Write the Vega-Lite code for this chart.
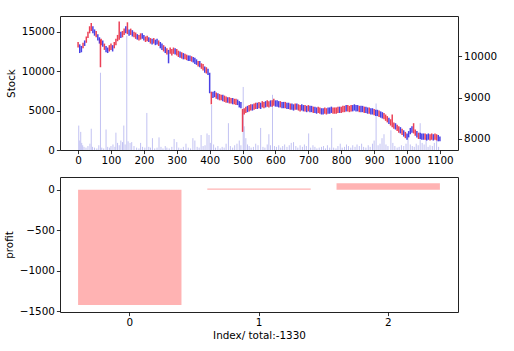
{
  "$schema": "https://vega.github.io/schema/vega-lite/v6.json",
  "padding": {"left": 3, "top": 15, "right": 5, "bottom": 5},
  "spacing": 9,
  "config": {
    "font": "DejaVu Sans",
    "view": {"stroke": "#222", "strokeWidth": 1},
    "axis": {"labelFont": "DejaVu Sans", "labelFontSize": 10.4, "titleFont": "DejaVu Sans", "titleFontSize": 10.4, "titleFontWeight": "normal", "labelColor": "#000", "titleColor": "#000", "tickColor": "#000", "tickSize": 3.6, "tickWidth": 0.8, "labelPadding": 2, "domain": false, "grid": false, "labelOverlap": false}
  },
  "datasets": {
    "price": [
      {"i":0,"lo":13000,"hi":13700,"c":"r"},{"i":5,"lo":12300,"hi":13400,"c":"b"},{"i":10,"lo":12400,"hi":13200,"c":"b"},{"i":15,"lo":12900,"hi":13600,"c":"r"},{"i":20,"lo":13200,"hi":13900,"c":"b"},{"i":25,"lo":13600,"hi":14400,"c":"r"},{"i":30,"lo":14200,"hi":15000,"c":"r"},{"i":35,"lo":14800,"hi":15700,"c":"r"},{"i":40,"lo":15100,"hi":16100,"c":"r"},{"i":45,"lo":14800,"hi":15700,"c":"b"},{"i":50,"lo":14500,"hi":15300,"c":"b"},{"i":55,"lo":14300,"hi":15100,"c":"r"},{"i":60,"lo":13900,"hi":14700,"c":"b"},{"i":65,"lo":13500,"hi":14300,"c":"b"},{"i":68,"lo":10500,"hi":14000,"c":"r"},{"i":70,"lo":13300,"hi":14100,"c":"r"},{"i":75,"lo":13100,"hi":13900,"c":"b"},{"i":80,"lo":12700,"hi":13500,"c":"r"},{"i":85,"lo":12400,"hi":13200,"c":"b"},{"i":90,"lo":12300,"hi":13000,"c":"b"},{"i":95,"lo":12500,"hi":13300,"c":"r"},{"i":100,"lo":12700,"hi":13500,"c":"r"},{"i":105,"lo":12500,"hi":13300,"c":"b"},{"i":110,"lo":12900,"hi":13700,"c":"r"},{"i":115,"lo":13300,"hi":14100,"c":"r"},{"i":120,"lo":13800,"hi":14600,"c":"r"},{"i":125,"lo":14000,"hi":16300,"c":"r"},{"i":130,"lo":14200,"hi":15000,"c":"b"},{"i":135,"lo":14300,"hi":15100,"c":"r"},{"i":140,"lo":14600,"hi":15400,"c":"r"},{"i":145,"lo":14800,"hi":15700,"c":"b"},{"i":150,"lo":14700,"hi":16200,"c":"r"},{"i":155,"lo":14500,"hi":15300,"c":"b"},{"i":160,"lo":14600,"hi":15400,"c":"r"},{"i":165,"lo":14400,"hi":15200,"c":"b"},{"i":170,"lo":14300,"hi":15000,"c":"r"},{"i":175,"lo":14100,"hi":14900,"c":"r"},{"i":180,"lo":14000,"hi":14700,"c":"b"},{"i":185,"lo":13900,"hi":14600,"c":"r"},{"i":190,"lo":14000,"hi":14800,"c":"r"},{"i":195,"lo":14100,"hi":14800,"c":"b"},{"i":200,"lo":13900,"hi":14600,"c":"b"},{"i":205,"lo":13700,"hi":14400,"c":"r"},{"i":210,"lo":13800,"hi":14500,"c":"r"},{"i":215,"lo":13700,"hi":14300,"c":"b"},{"i":220,"lo":13500,"hi":14200,"c":"r"},{"i":225,"lo":13400,"hi":14100,"c":"b"},{"i":230,"lo":13500,"hi":14200,"c":"r"},{"i":235,"lo":13300,"hi":14000,"c":"b"},{"i":240,"lo":13400,"hi":14100,"c":"b"},{"i":245,"lo":13200,"hi":13900,"c":"r"},{"i":250,"lo":12900,"hi":13700,"c":"b"},{"i":255,"lo":12700,"hi":13500,"c":"b"},{"i":260,"lo":12500,"hi":13300,"c":"r"},{"i":265,"lo":12300,"hi":13100,"c":"b"},{"i":270,"lo":12100,"hi":12900,"c":"r"},{"i":275,"lo":11000,"hi":12700,"c":"b"},{"i":280,"lo":12200,"hi":13000,"c":"r"},{"i":285,"lo":12000,"hi":12800,"c":"r"},{"i":290,"lo":12200,"hi":13000,"c":"r"},{"i":295,"lo":12100,"hi":12900,"c":"b"},{"i":300,"lo":12000,"hi":12800,"c":"r"},{"i":305,"lo":11800,"hi":12600,"c":"r"},{"i":310,"lo":11700,"hi":12500,"c":"b"},{"i":315,"lo":11600,"hi":12400,"c":"r"},{"i":320,"lo":11500,"hi":12300,"c":"b"},{"i":325,"lo":11500,"hi":12200,"c":"r"},{"i":330,"lo":11400,"hi":12100,"c":"r"},{"i":335,"lo":11300,"hi":12000,"c":"b"},{"i":340,"lo":11300,"hi":12000,"c":"b"},{"i":345,"lo":11200,"hi":11900,"c":"r"},{"i":350,"lo":11100,"hi":11800,"c":"b"},{"i":355,"lo":10900,"hi":11700,"c":"b"},{"i":360,"lo":10800,"hi":11500,"c":"b"},{"i":365,"lo":10600,"hi":11300,"c":"r"},{"i":370,"lo":10500,"hi":11300,"c":"b"},{"i":375,"lo":10300,"hi":11000,"c":"r"},{"i":380,"lo":10100,"hi":10900,"c":"r"},{"i":385,"lo":9800,"hi":10600,"c":"b"},{"i":390,"lo":9700,"hi":10500,"c":"r"},{"i":395,"lo":9500,"hi":10300,"c":"b"},{"i":400,"lo":7200,"hi":9800,"c":"b"},{"i":405,"lo":5800,"hi":7400,"c":"r"},{"i":410,"lo":6600,"hi":7400,"c":"b"},{"i":415,"lo":6700,"hi":7500,"c":"b"},{"i":420,"lo":6500,"hi":7300,"c":"r"},{"i":425,"lo":6400,"hi":7200,"c":"b"},{"i":430,"lo":6300,"hi":7100,"c":"r"},{"i":435,"lo":6300,"hi":7000,"c":"r"},{"i":440,"lo":6200,"hi":7000,"c":"b"},{"i":445,"lo":6100,"hi":6900,"c":"r"},{"i":450,"lo":6000,"hi":6800,"c":"r"},{"i":455,"lo":6000,"hi":6700,"c":"b"},{"i":460,"lo":5900,"hi":6700,"c":"r"},{"i":465,"lo":5900,"hi":6600,"c":"r"},{"i":470,"lo":5800,"hi":6600,"c":"b"},{"i":475,"lo":5800,"hi":6500,"c":"r"},{"i":480,"lo":5700,"hi":6500,"c":"r"},{"i":485,"lo":5700,"hi":6400,"c":"b"},{"i":490,"lo":5400,"hi":6200,"c":"b"},{"i":495,"lo":5300,"hi":6100,"c":"b"},{"i":500,"lo":2300,"hi":5200,"c":"r"},{"i":505,"lo":4500,"hi":5300,"c":"r"},{"i":510,"lo":4700,"hi":5500,"c":"r"},{"i":515,"lo":4800,"hi":5600,"c":"b"},{"i":520,"lo":4900,"hi":5700,"c":"r"},{"i":525,"lo":5000,"hi":5800,"c":"r"},{"i":530,"lo":5000,"hi":5800,"c":"b"},{"i":535,"lo":5100,"hi":5900,"c":"r"},{"i":540,"lo":5200,"hi":6000,"c":"r"},{"i":545,"lo":5200,"hi":6000,"c":"b"},{"i":550,"lo":5300,"hi":6100,"c":"r"},{"i":555,"lo":5200,"hi":6000,"c":"b"},{"i":560,"lo":5400,"hi":6200,"c":"r"},{"i":565,"lo":5300,"hi":6100,"c":"r"},{"i":570,"lo":5400,"hi":6200,"c":"b"},{"i":575,"lo":5500,"hi":6300,"c":"r"},{"i":580,"lo":5400,"hi":6200,"c":"r"},{"i":585,"lo":5500,"hi":6300,"c":"b"},{"i":590,"lo":5500,"hi":6300,"c":"r"},{"i":595,"lo":5600,"hi":6500,"c":"r"},{"i":600,"lo":5500,"hi":6300,"c":"b"},{"i":605,"lo":5500,"hi":6300,"c":"b"},{"i":610,"lo":5400,"hi":6200,"c":"b"},{"i":615,"lo":5400,"hi":6200,"c":"r"},{"i":620,"lo":5300,"hi":6100,"c":"b"},{"i":625,"lo":5300,"hi":6100,"c":"b"},{"i":630,"lo":5300,"hi":6100,"c":"r"},{"i":635,"lo":5200,"hi":6000,"c":"b"},{"i":640,"lo":5200,"hi":6000,"c":"b"},{"i":645,"lo":5100,"hi":5900,"c":"r"},{"i":650,"lo":5100,"hi":5900,"c":"b"},{"i":655,"lo":5000,"hi":5800,"c":"b"},{"i":660,"lo":5100,"hi":5900,"c":"r"},{"i":665,"lo":5100,"hi":5900,"c":"b"},{"i":670,"lo":5000,"hi":5800,"c":"r"},{"i":675,"lo":4900,"hi":5700,"c":"r"},{"i":680,"lo":5000,"hi":5800,"c":"b"},{"i":685,"lo":4900,"hi":5700,"c":"b"},{"i":690,"lo":4900,"hi":5700,"c":"r"},{"i":695,"lo":4800,"hi":5600,"c":"b"},{"i":700,"lo":4900,"hi":5700,"c":"r"},{"i":705,"lo":4800,"hi":5600,"c":"b"},{"i":710,"lo":4800,"hi":5600,"c":"b"},{"i":715,"lo":4700,"hi":5500,"c":"r"},{"i":720,"lo":4700,"hi":5500,"c":"b"},{"i":725,"lo":4600,"hi":5400,"c":"b"},{"i":730,"lo":4700,"hi":5500,"c":"r"},{"i":735,"lo":4600,"hi":5400,"c":"r"},{"i":740,"lo":4500,"hi":5300,"c":"b"},{"i":745,"lo":4500,"hi":5300,"c":"b"},{"i":750,"lo":4600,"hi":5400,"c":"r"},{"i":755,"lo":4500,"hi":5300,"c":"r"},{"i":760,"lo":4600,"hi":5400,"c":"b"},{"i":765,"lo":4600,"hi":5400,"c":"b"},{"i":770,"lo":4700,"hi":5500,"c":"b"},{"i":775,"lo":4600,"hi":5400,"c":"r"},{"i":780,"lo":4600,"hi":5400,"c":"r"},{"i":785,"lo":4600,"hi":5400,"c":"r"},{"i":790,"lo":4700,"hi":5500,"c":"r"},{"i":795,"lo":4700,"hi":5500,"c":"b"},{"i":800,"lo":4700,"hi":5500,"c":"r"},{"i":805,"lo":4800,"hi":5600,"c":"r"},{"i":810,"lo":4800,"hi":5600,"c":"r"},{"i":815,"lo":4900,"hi":5700,"c":"b"},{"i":820,"lo":4900,"hi":5700,"c":"r"},{"i":825,"lo":4800,"hi":5600,"c":"r"},{"i":830,"lo":4900,"hi":5700,"c":"r"},{"i":835,"lo":4900,"hi":5700,"c":"b"},{"i":840,"lo":5000,"hi":5800,"c":"b"},{"i":845,"lo":4900,"hi":5700,"c":"b"},{"i":850,"lo":4900,"hi":5700,"c":"b"},{"i":855,"lo":4800,"hi":5600,"c":"r"},{"i":860,"lo":4800,"hi":5600,"c":"b"},{"i":865,"lo":4800,"hi":5600,"c":"b"},{"i":870,"lo":4700,"hi":5500,"c":"r"},{"i":875,"lo":4700,"hi":5500,"c":"b"},{"i":880,"lo":4600,"hi":5400,"c":"b"},{"i":885,"lo":4600,"hi":5400,"c":"r"},{"i":890,"lo":4500,"hi":5300,"c":"b"},{"i":895,"lo":4500,"hi":5300,"c":"b"},{"i":900,"lo":4400,"hi":5200,"c":"r"},{"i":905,"lo":4300,"hi":5100,"c":"b"},{"i":910,"lo":4300,"hi":5100,"c":"b"},{"i":915,"lo":4200,"hi":5000,"c":"r"},{"i":920,"lo":4100,"hi":4900,"c":"b"},{"i":925,"lo":4000,"hi":4800,"c":"b"},{"i":930,"lo":3900,"hi":4700,"c":"r"},{"i":935,"lo":3700,"hi":4500,"c":"r"},{"i":940,"lo":3500,"hi":4300,"c":"r"},{"i":945,"lo":3300,"hi":4100,"c":"b"},{"i":950,"lo":3100,"hi":3900,"c":"r"},{"i":955,"lo":2900,"hi":4500,"c":"r"},{"i":960,"lo":2700,"hi":3500,"c":"r"},{"i":965,"lo":2600,"hi":3400,"c":"b"},{"i":970,"lo":2400,"hi":3200,"c":"r"},{"i":975,"lo":2200,"hi":3000,"c":"r"},{"i":980,"lo":2100,"hi":2900,"c":"b"},{"i":985,"lo":1900,"hi":2700,"c":"r"},{"i":990,"lo":1700,"hi":2500,"c":"b"},{"i":995,"lo":1500,"hi":2300,"c":"r"},{"i":1000,"lo":1300,"hi":2100,"c":"b"},{"i":1005,"lo":1600,"hi":2400,"c":"b"},{"i":1010,"lo":2000,"hi":2800,"c":"b"},{"i":1015,"lo":2200,"hi":3000,"c":"b"},{"i":1020,"lo":2100,"hi":3400,"c":"r"},{"i":1025,"lo":1800,"hi":2600,"c":"r"},{"i":1030,"lo":1600,"hi":2400,"c":"b"},{"i":1035,"lo":1400,"hi":2200,"c":"r"},{"i":1040,"lo":1400,"hi":2200,"c":"b"},{"i":1045,"lo":1300,"hi":2100,"c":"b"},{"i":1050,"lo":1300,"hi":2100,"c":"b"},{"i":1055,"lo":1300,"hi":2100,"c":"r"},{"i":1060,"lo":1200,"hi":2000,"c":"b"},{"i":1065,"lo":1300,"hi":2100,"c":"b"},{"i":1070,"lo":1200,"hi":2000,"c":"r"},{"i":1075,"lo":1300,"hi":2100,"c":"r"},{"i":1080,"lo":1200,"hi":2000,"c":"b"},{"i":1085,"lo":1300,"hi":2100,"c":"r"},{"i":1090,"lo":1200,"hi":2000,"c":"r"},{"i":1095,"lo":1100,"hi":1900,"c":"b"},{"i":1100,"lo":1100,"hi":1700,"c":"b"}
    ],
    "vol": [
      {"i":2,"v":3100},{"i":5,"v":1200},{"i":8,"v":2300},{"i":11,"v":900},{"i":14,"v":600},{"i":18,"v":400},{"i":24,"v":300},{"i":30,"v":500},{"i":36,"v":800},{"i":40,"v":2700},{"i":44,"v":400},{"i":50,"v":300},{"i":57,"v":200},{"i":63,"v":600},{"i":68,"v":9800},{"i":72,"v":300},{"i":78,"v":200},{"i":85,"v":2600},{"i":90,"v":400},{"i":96,"v":300},{"i":100,"v":500},{"i":106,"v":700},{"i":112,"v":400},{"i":115,"v":2200},{"i":120,"v":900},{"i":125,"v":600},{"i":130,"v":1200},{"i":135,"v":1000},{"i":139,"v":3100},{"i":143,"v":700},{"i":148,"v":14500},{"i":152,"v":1100},{"i":158,"v":900},{"i":163,"v":1000},{"i":170,"v":500},{"i":178,"v":300},{"i":185,"v":200},{"i":190,"v":900},{"i":196,"v":400},{"i":203,"v":300},{"i":209,"v":4700},{"i":215,"v":400},{"i":220,"v":300},{"i":226,"v":1500},{"i":233,"v":200},{"i":240,"v":300},{"i":246,"v":1600},{"i":252,"v":400},{"i":258,"v":200},{"i":265,"v":500},{"i":270,"v":300},{"i":277,"v":200},{"i":285,"v":400},{"i":292,"v":1400},{"i":300,"v":1000},{"i":306,"v":300},{"i":313,"v":200},{"i":320,"v":400},{"i":328,"v":800},{"i":335,"v":300},{"i":342,"v":200},{"i":349,"v":1500},{"i":355,"v":1200},{"i":362,"v":400},{"i":368,"v":300},{"i":374,"v":1900},{"i":380,"v":500},{"i":386,"v":600},{"i":392,"v":2100},{"i":398,"v":1900},{"i":402,"v":900},{"i":406,"v":5700},{"i":412,"v":700},{"i":418,"v":300},{"i":425,"v":500},{"i":432,"v":200},{"i":438,"v":400},{"i":444,"v":300},{"i":450,"v":800},{"i":457,"v":3400},{"i":463,"v":500},{"i":470,"v":300},{"i":476,"v":600},{"i":483,"v":800},{"i":490,"v":1200},{"i":495,"v":600},{"i":502,"v":8000},{"i":505,"v":3000},{"i":510,"v":1500},{"i":515,"v":700},{"i":520,"v":500},{"i":526,"v":300},{"i":533,"v":400},{"i":540,"v":800},{"i":547,"v":600},{"i":555,"v":2800},{"i":562,"v":400},{"i":568,"v":300},{"i":575,"v":700},{"i":580,"v":2000},{"i":585,"v":600},{"i":591,"v":7000},{"i":597,"v":500},{"i":603,"v":400},{"i":610,"v":600},{"i":616,"v":300},{"i":622,"v":500},{"i":628,"v":700},{"i":635,"v":400},{"i":642,"v":600},{"i":648,"v":900},{"i":655,"v":1000},{"i":662,"v":500},{"i":668,"v":300},{"i":675,"v":600},{"i":682,"v":400},{"i":688,"v":700},{"i":694,"v":500},{"i":701,"v":2100},{"i":707,"v":300},{"i":714,"v":600},{"i":720,"v":400},{"i":726,"v":200},{"i":733,"v":300},{"i":740,"v":400},{"i":746,"v":500},{"i":752,"v":200},{"i":758,"v":600},{"i":765,"v":300},{"i":771,"v":2800},{"i":777,"v":300},{"i":784,"v":200},{"i":790,"v":500},{"i":797,"v":800},{"i":803,"v":300},{"i":810,"v":400},{"i":816,"v":700},{"i":822,"v":500},{"i":829,"v":300},{"i":835,"v":600},{"i":842,"v":400},{"i":848,"v":700},{"i":855,"v":500},{"i":862,"v":800},{"i":868,"v":400},{"i":875,"v":300},{"i":882,"v":600},{"i":888,"v":400},{"i":895,"v":800},{"i":900,"v":1200},{"i":906,"v":5900},{"i":912,"v":600},{"i":918,"v":800},{"i":924,"v":1500},{"i":930,"v":2000},{"i":936,"v":700},{"i":942,"v":500},{"i":951,"v":2500},{"i":957,"v":900},{"i":963,"v":500},{"i":970,"v":300},{"i":976,"v":400},{"i":983,"v":600},{"i":990,"v":500},{"i":997,"v":800},{"i":1003,"v":2000},{"i":1010,"v":700},{"i":1016,"v":500},{"i":1022,"v":400},{"i":1028,"v":800},{"i":1034,"v":600},{"i":1040,"v":3400},{"i":1046,"v":900},{"i":1052,"v":700},{"i":1058,"v":1500},{"i":1064,"v":400},{"i":1070,"v":600},{"i":1077,"v":500},{"i":1083,"v":900},{"i":1090,"v":1200},{"i":1096,"v":400}
    ],
    "right": [{"r":8000},{"r":10000}],
    "profit": [{"k":"0","p":-1425},{"k":"1","p":15},{"k":"2","p":80}]
  },
  "vconcat": [
    {
      "width": 398,
      "height": 134,
      "layer": [
        {
          "layer": [
            {
              "data": {"name": "vol"},
              "mark": {"type": "rule", "color": "#c2c2f2", "strokeWidth": 1},
              "encoding": {
                "x": {"field": "i", "type": "quantitative", "scale": {"domain": [-55, 1155], "nice": false, "zero": false}, "axis": {"values": [0,100,200,300,400,500,600,700,800,900,1000,1100], "title": null, "format": "d", "labelOverlap": false, "labelFlush": false}},
                "y": {"field": "v", "type": "quantitative", "scale": {"domain": [0, 17000], "nice": false}, "axis": {"values": [0,5000,10000,15000], "title": "Stock", "format": "d", "titlePadding": 5}},
                "y2": {"datum": 0}
              }
            },
            {
              "data": {"name": "price"},
              "mark": {"type": "rule", "strokeWidth": 1.5, "opacity": 0.85},
              "encoding": {
                "x": {"field": "i", "type": "quantitative", "axis": {"values": [0,100,200,300,400,500,600,700,800,900,1000,1100], "title": null, "format": "d", "labelOverlap": false, "labelFlush": false}},
                "y": {"field": "lo", "type": "quantitative", "axis": {"values": [0,5000,10000,15000], "title": "Stock", "format": "d", "titlePadding": 5}},
                "y2": {"field": "hi"},
                "color": {"field": "c", "type": "nominal", "scale": {"domain": ["r","b"], "range": ["#e8203a", "#2a20e0"]}, "legend": null}
              }
            }
          ]
        },
        {
          "data": {"name": "right"},
          "mark": {"type": "point", "opacity": 0},
          "encoding": {
            "y": {"field": "r", "type": "quantitative", "scale": {"domain": [7730, 10975], "nice": false, "zero": false}, "axis": {"values": [8000, 9000, 10000], "title": null, "format": "d", "orient": "right"}}
          }
        }
      ],
      "resolve": {"scale": {"y": "independent"}}
    },
    {
      "width": 398,
      "height": 135,
      "data": {"name": "profit"},
      "mark": {"type": "bar", "color": "#ffb3b3"},
      "encoding": {
        "x": {"field": "k", "type": "ordinal", "scale": {"paddingInner": 0.2, "paddingOuter": 0.14}, "axis": {"labelAngle": 0, "title": "Index/ total:-1330", "titlePadding": 2}},
        "y": {"field": "p", "type": "quantitative", "scale": {"domain": [-1510, 156], "nice": false, "zero": false}, "axis": {"values": [-1500, -1000, -500, 0], "title": "profit", "titlePadding": 5, "format": "d"}},
        "y2": {"datum": 0}
      }
    }
  ]
}
